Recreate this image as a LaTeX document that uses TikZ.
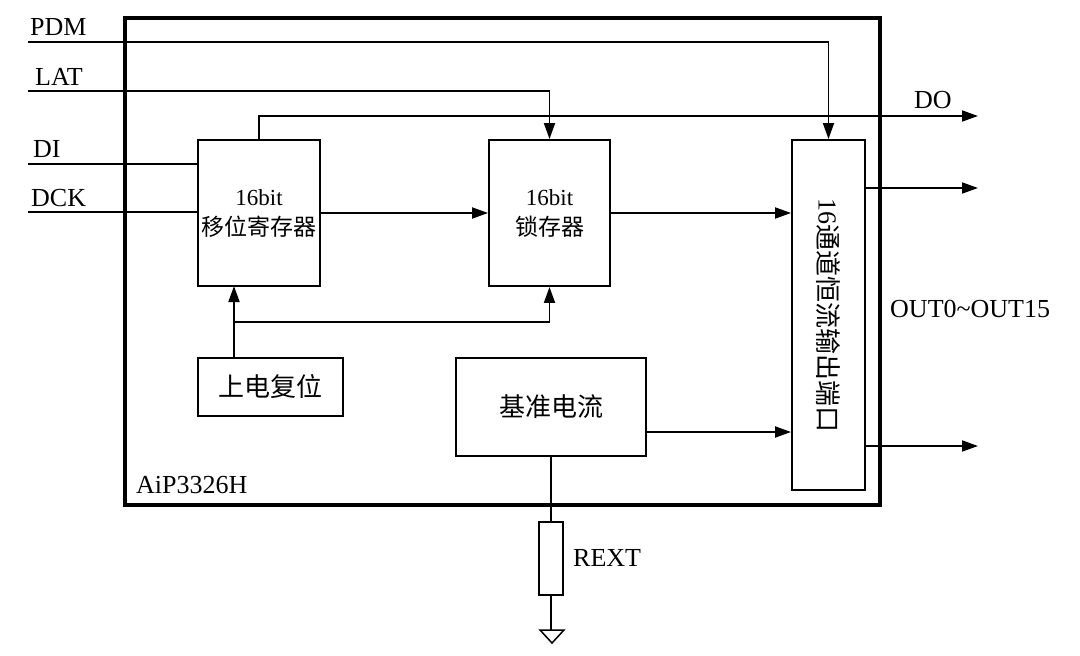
\documentclass[tikz,border=0pt]{standalone}
\usepackage{fontspec}
\setmainfont{Liberation Serif}
\newfontfamily\cjk{Noto Sans CJK SC}
\usetikzlibrary{arrows.meta,calc}
\begin{document}
\begin{tikzpicture}[x=1pt,y=-1pt,
  blk/.style={draw,line width=1.9pt,minimum width=#1,inner sep=0pt,font=\fontsize{26}{30}\selectfont},
  wire/.style={line width=1.8pt},
  arr/.style={wire,-{Triangle[length=16pt,width=11pt]}},
  lbl/.style={font=\fontsize{26}{30}\selectfont,inner sep=0pt}]
\useasboundingbox (0,0) rectangle (1080,656);
% chip outline
\node[draw,line width=4.5pt,minimum width=755pt,minimum height=487pt,inner sep=0pt] (chip) at (502.5,261.5) {};
% blocks
\node[blk=122pt,minimum height=146pt,align=center] (shift) at (259,213)
  {{\fontsize{23}{30}\selectfont 16bit}\\{\fontsize{23}{30}\selectfont\cjk 移位寄存器}};
\node[blk=121pt,minimum height=146pt,align=center] (latch) at (549.5,213)
  {{\fontsize{23}{30}\selectfont 16bit}\\{\fontsize{23}{30}\selectfont\cjk 锁存器}};
\node[blk=73pt,minimum height=350pt] (out) at (828.5,315) {};
\node[lbl,rotate=-90] (outtxt) at (out.center) {16{\cjk 通道恒流输出端口}};
\node[blk=145pt,minimum height=58pt] (rst) at (270.5,387) {\cjk 上电复位};
\node[blk=190pt,minimum height=98pt] (ref) at (551,407) {\cjk 基准电流};
\node[draw,line width=1.8pt,minimum width=24pt,minimum height=73pt,inner sep=0pt] (res) at (551,558.5) {};
% pins and helper points
\coordinate (pdm) at (28,42);
\coordinate (lat) at (28,91);
\coordinate (di) at (28,164);
\coordinate (dck) at (28,212);
\coordinate (do) at (978,116);
\coordinate (o1) at (978,188);
\coordinate (o2) at (978,446);
\coordinate (gnd) at (551,630);
\coordinate (rsttop) at (234,358);
\coordinate (srbot) at (234,286);
\coordinate (branch) at (234,322);
\coordinate (refout) at (646,432);
% connectors
\draw[arr] (pdm) -| (out.north);
\draw[arr] (lat) -| (latch.north);
\draw[wire] (di) -- (di -| shift.west);
\draw[wire] (dck) -- (dck -| shift.west);
\draw[arr] (shift.north) |- (do);
\draw[arr] (shift.east) -- (latch.west);
\draw[arr] (latch.east) -- (latch.east -| out.west);
\draw[arr] (out.east |- o1) -- (o1);
\draw[arr] (out.east |- o2) -- (o2);
\draw[arr] (rsttop) -- (srbot);
\draw[arr] (branch) -| (latch.south);
\draw[arr] (refout) -- (refout -| out.west);
\draw[wire] (ref.south) -- (res.north);
\draw[wire] (res.south) -- (gnd);
\draw[line width=1.5pt] ($(gnd)+(-11,0)$) -- ($(gnd)+(13,0)$) -- ($(gnd)+(1,13)$) -- cycle;
% labels
\node[lbl,anchor=base west] (lpdm) at (30,35) {PDM};
\node[lbl,anchor=base west] (llat) at (35,85) {LAT};
\node[lbl,anchor=base west] (ldi) at (33,157) {DI};
\node[lbl,anchor=base west] (ldck) at (31,206) {DCK};
\node[lbl,anchor=base west] (ldo) at (914,108) {DO};
\node[lbl,anchor=west] (lout) at (890,309) {OUT0\char`\~OUT15};
\node[lbl,anchor=base west] (lchip) at (136,493) {AiP3326H};
\node[lbl,anchor=base west] (lrext) at (573,566) {REXT};
\end{tikzpicture}
\end{document}
